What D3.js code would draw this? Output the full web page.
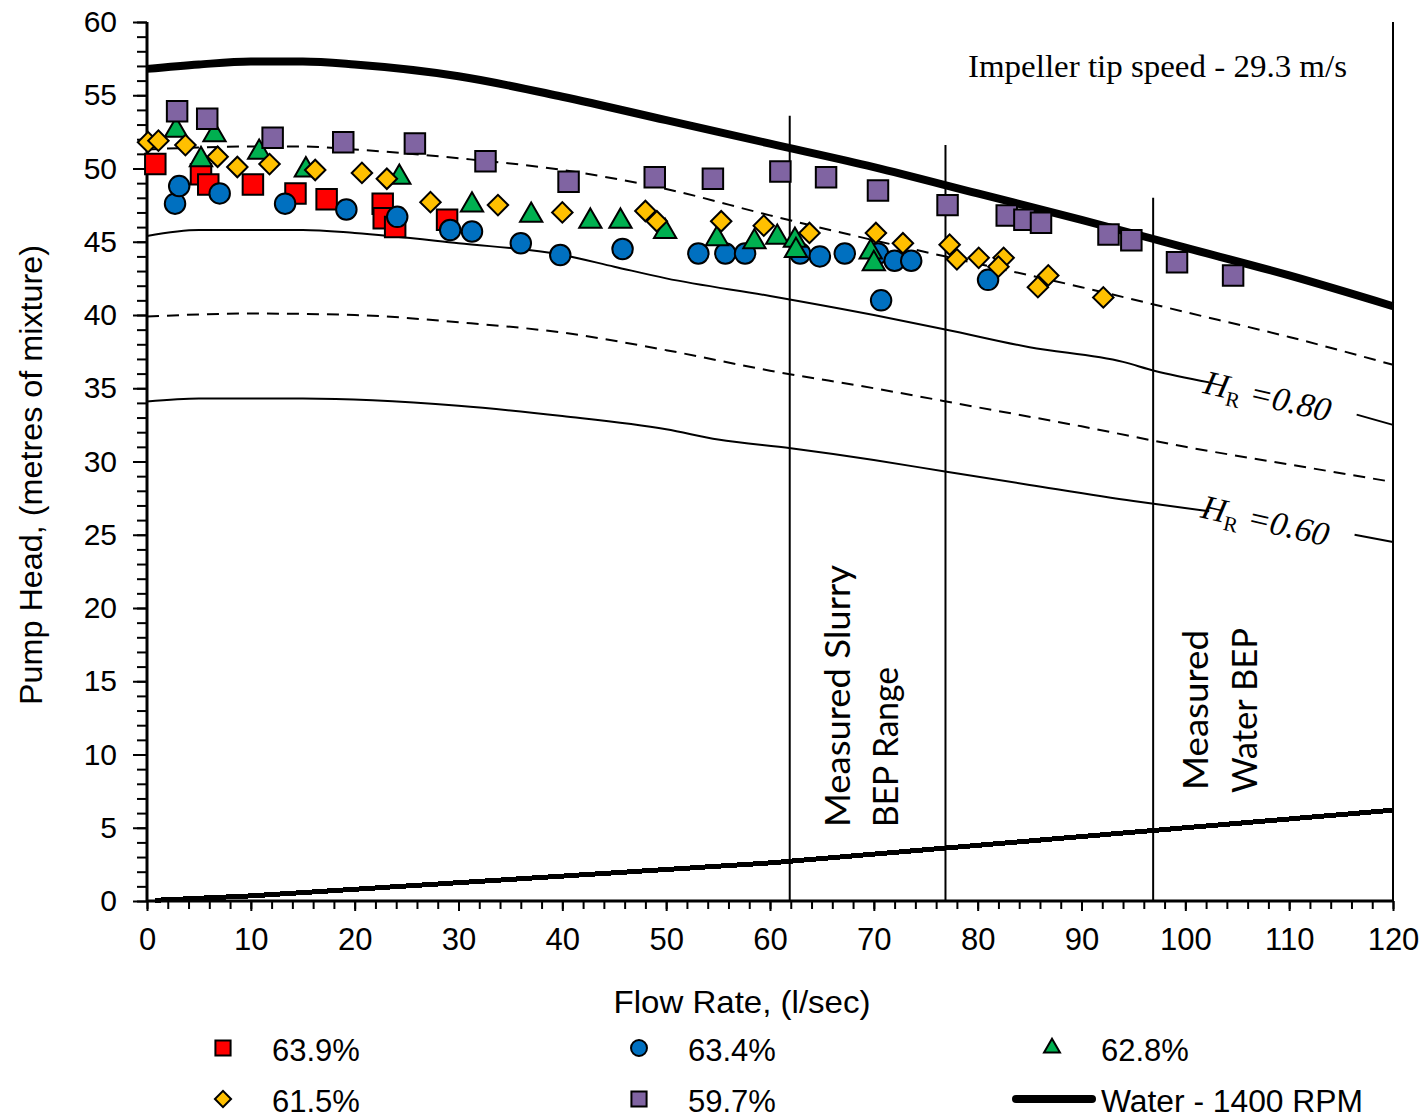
<!DOCTYPE html>
<html>
<head>
<meta charset="utf-8">
<script src="https://cdn.jsdelivr.net/npm/d3@7/dist/d3.min.js"></script>
<style>
  body { margin: 0; background: #fff; }
  svg { display: block; }
  .axis text { font-family: 'Liberation Sans', Arial, sans-serif; fill: #000; }
  .axis line { stroke: #000; stroke-width: 2px; }
  .axis path { display: none; }
</style>
</head>
<body>
<script>
const w = 1427;
const h = 1118;

// measured slurry head points [flow l/s, head m] per solids concentration
const s639 = [[0.8, 50.3], [5.2, 49.6], [5.9, 48.9], [10.2, 48.9], [14.3, 48.3], [17.3, 47.9],
  [22.7, 47.6], [22.8, 46.6], [23.9, 46.0], [28.9, 46.5]];
const s634 = [[2.7, 47.6], [3.1, 48.8], [7.0, 48.3], [13.3, 47.6], [19.2, 47.2], [24.1, 46.7],
  [29.2, 45.8], [31.3, 45.7], [36.0, 44.9], [39.8, 44.1], [45.8, 44.5], [53.1, 44.2],
  [55.7, 44.2], [57.6, 44.2], [62.9, 44.2], [64.8, 44.0], [67.2, 44.2], [70.4, 44.2],
  [70.7, 41.0], [72.0, 43.7], [73.6, 43.7], [81.0, 42.4]];
const s628 = [[2.8, 52.6], [6.5, 52.3], [5.2, 50.6], [10.8, 51.1], [15.3, 49.9], [24.3, 49.4],
  [31.3, 47.5], [37.0, 46.8], [42.7, 46.4], [45.6, 46.4], [49.9, 45.7], [54.9, 45.2],
  [58.5, 45.0], [60.7, 45.3], [62.4, 45.1], [62.5, 44.4], [69.7, 44.3], [70.0, 43.5]];
const s615 = [[0.1, 51.8], [1.1, 51.9], [3.7, 51.6], [6.8, 50.8], [8.7, 50.1], [11.8, 50.3],
  [16.2, 49.9], [20.7, 49.7], [23.1, 49.3], [27.3, 47.7], [33.8, 47.5], [40.0, 47.0],
  [48.0, 47.1], [49.1, 46.4], [55.3, 46.4], [59.4, 46.1], [63.8, 45.6], [70.2, 45.6],
  [72.8, 44.9], [77.3, 44.8], [78.0, 43.8], [80.1, 43.9], [82.5, 43.9], [82.0, 43.3],
  [85.8, 41.9], [86.8, 42.7], [92.1, 41.2]];
const s597 = [[2.9, 53.9], [5.8, 53.4], [12.1, 52.1], [18.9, 51.8], [25.8, 51.7], [32.6, 50.5],
  [40.6, 49.1], [48.9, 49.4], [54.5, 49.3], [61.0, 49.8], [65.4, 49.4], [70.4, 48.5],
  [77.1, 47.5], [82.8, 46.8], [84.5, 46.5], [86.1, 46.3], [92.6, 45.5], [94.8, 45.1],
  [99.2, 43.6], [104.6, 42.7]];

const seriesNames = ['63.9%', '63.4%', '62.8%', '61.5%', '59.7%'];
const seriesColors = ['#ff0000', '#0070c0', '#00b050', '#ffc000', '#8064a2'];
const seriesShapes = ['square', 'circle', 'triangle', 'diamond', 'square'];

// water curve at 1400 RPM and derated curves
const water = [[0, 56.8], [5, 57.1], [10, 57.3], [15, 57.3], [20, 57.1], [30, 56.3], [40, 54.9],
  [50, 53.3], [60, 51.7], [70, 50.1], [80, 48.3], [90, 46.5], [100, 44.6], [110, 42.7], [120, 40.6]];
const hr90 = [[0, 51.3], [10, 51.5], [15, 51.5], [20, 51.3], [30, 50.7], [40, 49.9], [50, 48.6],
  [60, 46.8], [70, 45.1], [80, 43.5], [90, 41.9], [100, 40.2], [110, 38.5], [120, 36.6]];
const hr80 = [[0, 45.4], [5, 45.8], [15, 45.8], [20, 45.6], [30, 44.9], [40, 44.1], [45, 43.3],
  [50, 42.5], [60, 41.3], [70, 40.0], [77, 39.0], [85, 37.8], [94, 36.8], [97, 36.2], [102.3, 35.4],
  [109, null], [116.5, 33.2], [120, 32.5]];
const hr70 = [[0, 39.9], [10, 40.1], [20, 40.0], [30, 39.5], [40, 38.8], [50, 37.6], [60, 36.2],
  [70, 35.0], [80, 33.7], [90, 32.4], [100, 31.0], [110, 29.8], [120, 28.6]];
const hr60 = [[0, 34.1], [5, 34.3], [15, 34.3], [30, 33.8], [40, 33.1], [50, 32.2], [55, 31.5],
  [62, 30.9], [70, 30.1], [77, 29.3], [85, 28.4], [95, 27.3], [102.3, 26.6],
  [109, null], [116.3, 25.0], [120, 24.5]];
const lowCurve = [[0.8, 0.05], [10, 0.35], [20, 0.8], [30, 1.25], [40, 1.7], [50, 2.15], [60, 2.6],
  [70, 3.2], [80, 3.8], [90, 4.4], [100, 5.0], [110, 5.6], [120, 6.2]];

const bepFlows = [61.9, 76.9, 96.9];
const bepTops = [53.6, 51.6, 48.0];

const hrLabels = ['0.80', '0.60'];
const hrLabelAt = [[101.6, 34.7], [101.4, 26.2]];

const xTicks = d3.range(0, 121, 10);
const yTicks = d3.range(0, 61, 5);

const xScale = d3.scaleLinear().domain([0, 120]).range([147, 1393]);
const yScale = d3.scaleLinear().domain([0, 60]).range([901, 22]);

const svg = d3.select('body').append('svg').attr('width', w).attr('height', h);

const line = d3
  .line()
  .defined(d => d[1] !== null)
  .x(d => xScale(d[0]))
  .y(d => yScale(d[1]))
  .curve(d3.curveMonotoneX);

// minor ticks
svg.append('g').attr('class', 'axis').attr('transform', 'translate(147,0)')
  .call(d3.axisLeft(yScale).tickValues(d3.range(0, 61, 1)).tickSize(10).tickFormat(''));
svg.append('g').attr('class', 'axis').attr('transform', 'translate(0,901)')
  .call(d3.axisBottom(xScale).tickValues(d3.range(0, 121, 2)).tickSize(8).tickFormat(''));

// major ticks + labels
svg.append('g').attr('class', 'axis').attr('transform', 'translate(147,0)')
  .call(d3.axisLeft(yScale).tickValues(yTicks).tickSize(14).tickPadding(16))
  .selectAll('text').style('font-size', '30px');
svg.append('g').attr('class', 'axis').attr('transform', 'translate(0,901)')
  .call(d3.axisBottom(xScale).tickValues(xTicks).tickSize(10).tickPadding(17))
  .selectAll('text').style('font-size', '31px');

// reference curves
const curves = [
  { d: hr60, dash: null },
  { d: hr70, dash: '12,8' },
  { d: hr80, dash: null },
  { d: hr90, dash: '12,8' },
];
curves.forEach(c => {
  svg.append('path').datum(c.d)
    .attr('d', line).attr('fill', 'none').attr('stroke', '#000')
    .attr('stroke-width', 2).attr('stroke-dasharray', c.dash);
});

svg.append('path').datum(water)
  .attr('d', line).attr('fill', 'none').attr('stroke', '#000').attr('stroke-width', 8);

svg.append('path').datum(lowCurve)
  .attr('d', d3.line().x(d => xScale(d[0])).y(d => yScale(d[1])))
  .attr('fill', 'none').attr('stroke', '#000').attr('stroke-width', 5)
  .attr('shape-rendering', 'crispEdges');

// BEP markers and plot frame
svg.selectAll('.bep').data(bepFlows).enter().append('line')
  .attr('x1', d => xScale(d)).attr('x2', d => xScale(d))
  .attr('y1', (d, i) => yScale(bepTops[i])).attr('y2', yScale(0))
  .attr('stroke', '#000').attr('stroke-width', 2);

svg.append('line')
  .attr('x1', xScale(120)).attr('x2', xScale(120))
  .attr('y1', yScale(60)).attr('y2', yScale(0))
  .attr('stroke', '#000').attr('stroke-width', 2);

svg.append('line')
  .attr('x1', xScale(0)).attr('x2', xScale(120) + 1)
  .attr('y1', yScale(0)).attr('y2', yScale(0))
  .attr('stroke', '#000').attr('stroke-width', 3);
svg.append('line')
  .attr('x1', xScale(0)).attr('x2', xScale(0))
  .attr('y1', yScale(60)).attr('y2', yScale(0) + 1)
  .attr('stroke', '#000').attr('stroke-width', 3);

// markers
const symbolOf = (shape, big) => {
  if (shape === 'circle') return d3.symbol(d3.symbolCircle, big ? 330 : 200)();
  if (shape === 'triangle') return d3.symbol(d3.symbolTriangle, big ? 215 : 110)();
  if (shape === 'diamond') return d3.symbol(d3.symbolSquare, big ? 210 : 130)();
  return d3.symbol(d3.symbolSquare, big ? 420 : 230)();
};

[s639, s634, s628, s615, s597].forEach((pts, i) => {
  svg.append('g').selectAll('path').data(pts).enter().append('path')
    .attr('d', symbolOf(seriesShapes[i], true))
    .attr('transform', d => `translate(${xScale(d[0])},${yScale(d[1])})${seriesShapes[i] === 'diamond' ? ' rotate(45)' : ''}`)
    .attr('fill', seriesColors[i]).attr('stroke', '#000').attr('stroke-width', 2);
});

// HR labels
hrLabels.forEach((lab, i) => {
  const t = svg.append('text')
    .attr('transform', `translate(${xScale(hrLabelAt[i][0])},${yScale(hrLabelAt[i][1])}) rotate(13)`)
    .style('font-family', "'Liberation Serif', 'Times New Roman', serif")
    .style('font-size', '34px').style('font-style', 'italic');
  t.append('tspan').text('H');
  t.append('tspan').attr('dy', 7).style('font-size', '21px').style('font-style', 'normal').text('R');
  t.append('tspan').attr('dy', -7).text(` =${lab}`);
});

svg.append('text')
  .attr('x', 1347).attr('y', 77).attr('text-anchor', 'end')
  .attr('textLength', 379).attr('lengthAdjust', 'spacingAndGlyphs')
  .style('font-family', "'Liberation Serif', 'Times New Roman', serif")
  .style('font-size', '31px')
  .text('Impeller tip speed - 29.3 m/s');

// rotated BEP notes
const notes = [
  { x: 850, y: 827, len: 262, t: 'Measured Slurry' },
  { x: 898, y: 827, len: 160, t: 'BEP Range' },
  { x: 1208, y: 790, len: 160, t: 'Measured' },
  { x: 1257, y: 793, len: 165, t: 'Water BEP' },
];
svg.selectAll('.note').data(notes).enter().append('text')
  .attr('transform', d => `translate(${d.x},${d.y}) rotate(-90)`)
  .attr('textLength', d => d.len).attr('lengthAdjust', 'spacingAndGlyphs')
  .style('font-family', "Lato, 'Open Sans', sans-serif")
  .style('font-size', '35px')
  .text(d => d.t);

// axis titles
svg.append('text')
  .attr('x', 742).attr('y', 1013).attr('text-anchor', 'middle')
  .attr('textLength', 257).attr('lengthAdjust', 'spacingAndGlyphs')
  .style('font-family', "'Liberation Sans', Arial, sans-serif").style('font-size', '32px')
  .text('Flow Rate, (l/sec)');

svg.append('text')
  .attr('transform', 'translate(42,475) rotate(-90)').attr('text-anchor', 'middle')
  .attr('textLength', 460).attr('lengthAdjust', 'spacingAndGlyphs')
  .style('font-family', "'Liberation Sans', Arial, sans-serif").style('font-size', '32px')
  .text('Pump Head, (metres of mixture)');

// legend
const legendX = [223, 639, 1052];
const legendY = [1048, 1099];
seriesNames.forEach((name, i) => {
  const cx = legendX[i % 3];
  const cy = legendY[Math.floor(i / 3)];
  svg.append('path')
    .attr('d', symbolOf(seriesShapes[i], false))
    .attr('transform', `translate(${cx},${cy})${seriesShapes[i] === 'diamond' ? ' rotate(45)' : ''}`)
    .attr('fill', seriesColors[i]).attr('stroke', '#000').attr('stroke-width', 2);
  svg.append('text')
    .attr('x', cx + 49).attr('y', cy + 13)
    .style('font-family', "'Liberation Sans', Arial, sans-serif").style('font-size', '31px')
    .text(name);
});
svg.append('line')
  .attr('x1', 1016).attr('x2', 1092).attr('y1', legendY[1]).attr('y2', legendY[1])
  .attr('stroke', '#000').attr('stroke-width', 8).attr('stroke-linecap', 'round');
svg.append('text')
  .attr('x', 1101).attr('y', legendY[1] + 13)
  .attr('textLength', 262).attr('lengthAdjust', 'spacingAndGlyphs')
  .style('font-family', "'Liberation Sans', Arial, sans-serif").style('font-size', '31px')
  .text('Water - 1400 RPM');
</script>
</body>
</html>
